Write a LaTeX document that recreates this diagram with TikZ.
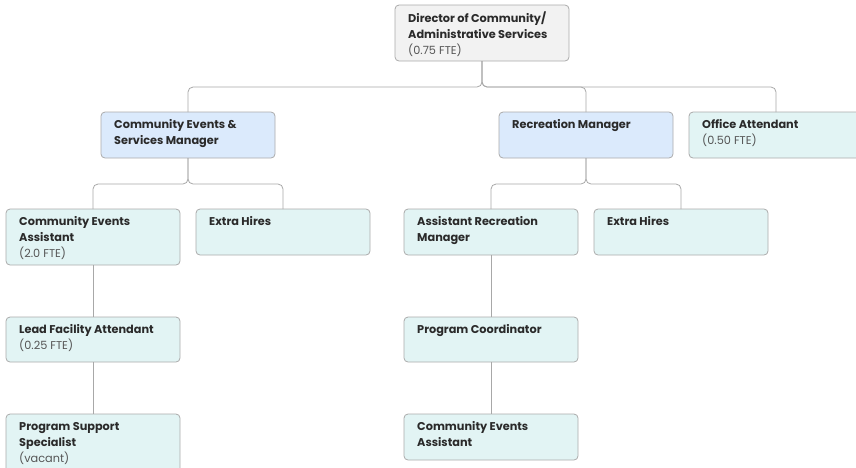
\documentclass[tikz,border=0pt]{standalone}
\usepackage{fontspec}
\setmainfont{Poppins}
\definecolor{boxline}{HTML}{ABABAB}
\definecolor{connline}{HTML}{A8A8A8}
\definecolor{grayfill}{HTML}{F2F2F2}
\definecolor{bluefill}{HTML}{DBEAFC}
\definecolor{tealfill}{HTML}{E2F4F4}
\definecolor{titletxt}{HTML}{2A2A2A}
\definecolor{subtxt}{HTML}{555555}
\begin{document}
\begin{tikzpicture}[x=1pt,y=-1pt,
  box/.style={draw=boxline, rounded corners=4pt, line width=0.8pt, anchor=north west,
    minimum width=174pt, inner sep=0pt, outer sep=0pt},
  graybox/.style={box, fill=grayfill},
  bluebox/.style={box, fill=bluefill},
  tealbox/.style={box, fill=tealfill},
  txt/.style={anchor=north west, inner sep=0pt, align=left, text=titletxt,
    font=\fontsize{11.3}{16}\selectfont},
  conn/.style={draw=connline, line width=0.8pt, rounded corners=5pt},
  sub/.style={text=subtxt}
]
\useasboundingbox (0,0) rectangle (856,467);
\clip (0,0) rectangle (856,467);

% boxes
\node[graybox, minimum height=56pt] (dir) at (395,5) {};
\node[bluebox, minimum height=46pt] (ces) at (101,112) {};
\node[bluebox, minimum height=46pt] (rm) at (499,112) {};
\node[tealbox, minimum height=46pt] (oa) at (689,112) {};
\node[tealbox, minimum height=56pt] (cea) at (6,209) {};
\node[tealbox, minimum height=46pt] (eha) at (196,209) {};
\node[tealbox, minimum height=46pt] (arm) at (404,209) {};
\node[tealbox, minimum height=46pt] (ehb) at (594,209) {};
\node[tealbox, minimum height=45pt] (lfa) at (6,317) {};
\node[tealbox, minimum height=45pt] (pc) at (404,317) {};
\node[tealbox, minimum height=60pt] (pss) at (6,414) {};
\node[tealbox, minimum height=46pt] (ceb) at (404,414) {};

% texts
\newcommand{\strt}{\rule{0pt}{9pt}}
\node[txt] (dirT) at ([shift={(13,7)}]dir.north west)
  {\strt\textbf{Director of Community/}\\\textbf{Administrative Services}\\{\color{subtxt}(0.75 FTE)}};
\node[txt] (cesT) at ([shift={(13,7)}]ces.north west)
  {\strt\textbf{Community Events \&}\\\textbf{Services Manager}};
\node[txt] (rmT) at ([shift={(13,7)}]rm.north west)
  {\strt\textbf{Recreation Manager}};
\node[txt] (oaT) at ([shift={(13,7)}]oa.north west)
  {\strt\textbf{Office Attendant}\\{\color{subtxt}(0.50 FTE)}};
\node[txt] (ceaT) at ([shift={(13,7)}]cea.north west)
  {\strt\textbf{Community Events}\\\textbf{Assistant}\\{\color{subtxt}(2.0 FTE)}};
\node[txt] (ehaT) at ([shift={(13,7)}]eha.north west)
  {\strt\textbf{Extra Hires}};
\node[txt] (armT) at ([shift={(13,7)}]arm.north west)
  {\strt\textbf{Assistant Recreation}\\\textbf{Manager}};
\node[txt] (ehbT) at ([shift={(13,7)}]ehb.north west)
  {\strt\textbf{Extra Hires}};
\node[txt] (lfaT) at ([shift={(13,7)}]lfa.north west)
  {\strt\textbf{Lead Facility Attendant}\\{\color{subtxt}(0.25 FTE)}};
\node[txt] (pcT) at ([shift={(13,7)}]pc.north west)
  {\strt\textbf{Program Coordinator}};
\node[txt] (pssT) at ([shift={(13,7)}]pss.north west)
  {\strt\textbf{Program Support}\\\textbf{Specialist}\\{\color{subtxt}(vacant)}};
\node[txt] (cebT) at ([shift={(13,7)}]ceb.north west)
  {\strt\textbf{Community Events}\\\textbf{Assistant}};

% junction levels
\coordinate (j1) at (0,87);
\coordinate (j2) at (0,184);

% connectors
\draw[conn] (dir.south) -- (dir.south |- j1) -| (ces.north);
\draw[conn] (dir.south) -- (dir.south |- j1) -| (rm.north);
\draw[conn] (dir.south) -- (dir.south |- j1) -| (oa.north);
\draw[conn] (ces.south) -- (ces.south |- j2) -| (cea.north);
\draw[conn] (ces.south) -- (ces.south |- j2) -| (eha.north);
\draw[conn] (rm.south) -- (rm.south |- j2) -| (arm.north);
\draw[conn] (rm.south) -- (rm.south |- j2) -| (ehb.north);
\draw[conn] (cea.south) -- (lfa.north);
\draw[conn] (lfa.south) -- (pss.north);
\draw[conn] (arm.south) -- (pc.north);
\draw[conn] (pc.south) -- (ceb.north);
\end{tikzpicture}
\end{document}
